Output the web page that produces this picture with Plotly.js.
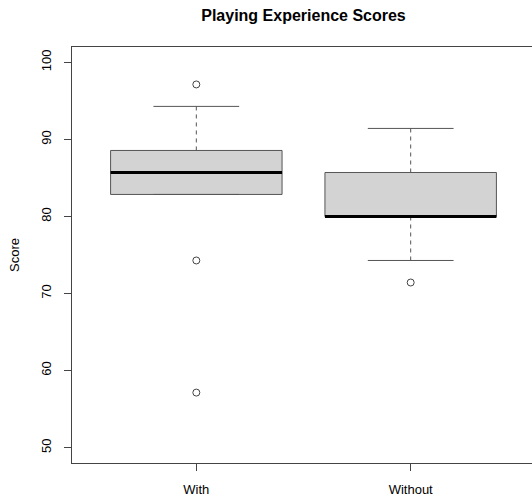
<!DOCTYPE html>
<html>
<head>
<meta charset="utf-8">
<script src="https://cdn.plot.ly/plotly-3.0.1.min.js"></script>
<style>
  html, body { margin: 0; padding: 0; overflow: hidden; background: #fff; }
  #chart { width: 535px; height: 500px; }
</style>
</head>
<body>
<div id="chart"></div>
<script>
// Five-number summaries of the scores (out of 35, scaled to 100) for each group
const groups = ['With', 'Without'];
const q1 = [82.86, 80.00];
const median = [85.71, 80.00];
const q3 = [88.57, 85.71];
const whiskerLow = [82.86, 74.29];
const whiskerHigh = [94.29, 91.43];
const outliers = [[97.14, 74.29, 57.14], [71.43]];
const yTicks = [50, 60, 70, 80, 90, 100];

const BOX_HALF = 0.4;   // box half-width in category units
const CAP_HALF = 0.2;   // whisker cap half-width
const edge = '#555555';

const traces = [];
groups.forEach((g, i) => {
  const x = i + 1;
  // box body
  traces.push({
    type: 'scatter', mode: 'lines', fill: 'toself', fillcolor: '#d3d3d3',
    x: [x - BOX_HALF, x + BOX_HALF, x + BOX_HALF, x - BOX_HALF, x - BOX_HALF],
    y: [q1[i], q1[i], q3[i], q3[i], q1[i]],
    line: { color: edge, width: 1 }, hoverinfo: 'skip'
  });
  // dashed whiskers
  traces.push({
    type: 'scatter', mode: 'lines',
    x: [x, x, null, x, x],
    y: [q3[i], whiskerHigh[i], null, whiskerLow[i], q1[i]],
    line: { color: edge, width: 1, dash: '4px,4px' }, hoverinfo: 'skip'
  });
  // whisker caps
  traces.push({
    type: 'scatter', mode: 'lines',
    x: [x - CAP_HALF, x + CAP_HALF, null, x - CAP_HALF, x + CAP_HALF],
    y: [whiskerHigh[i], whiskerHigh[i], null, whiskerLow[i], whiskerLow[i]],
    line: { color: edge, width: 1 }, hoverinfo: 'skip'
  });
  // median bar
  traces.push({
    type: 'scatter', mode: 'lines',
    x: [x - BOX_HALF, x + BOX_HALF],
    y: [median[i], median[i]],
    line: { color: '#000000', width: 3 }, hoverinfo: 'skip'
  });
  // outlying points
  traces.push({
    type: 'scatter', mode: 'markers',
    x: outliers[i].map(() => x), y: outliers[i],
    marker: { symbol: 'circle-open', size: 7, color: '#444444', line: { width: 1 } },
    hoverinfo: 'skip'
  });
});

const font = { family: '"Liberation Sans", Arial, sans-serif', size: 13, color: '#000' };

const layout = {
  width: 535, height: 500,
  margin: { l: 72, r: 0, t: 47, b: 37 },
  paper_bgcolor: '#fff', plot_bgcolor: '#fff',
  showlegend: false,
  hovermode: false,
  font: font,
  title: {
    text: '<b>Playing Experience Scores</b>',
    font: { family: font.family, size: 16, color: '#000' },
    x: 0.5, xref: 'paper', xanchor: 'center',
    y: 1 - 15 / 500, yref: 'container', yanchor: 'middle'
  },
  xaxis: {
    range: [0.42, 2.58], showgrid: false, zeroline: false,
    tickmode: 'array', tickvals: groups.map((g, i) => i + 1), ticktext: groups,
    ticks: 'outside', ticklen: 7, tickcolor: '#444', tickwidth: 1,
    ticklabelstandoff: 7,
    showline: true, mirror: true, linecolor: '#444', linewidth: 1,
    tickfont: font
  },
  yaxis: {
    range: [48, 102], showgrid: false, zeroline: false,
    tickmode: 'array', tickvals: yTicks,
    ticks: 'outside', ticklen: 7, tickcolor: '#444', tickwidth: 1,
    tickangle: -90, ticklabelstandoff: 8,
    showline: true, mirror: true, linecolor: '#444', linewidth: 1,
    tickfont: font,
    title: { text: 'Score', font: font, standoff: 16 }
  }
};

Plotly.newPlot('chart', traces, layout, { displayModeBar: false, staticPlot: true });
</script>
</body>
</html>
